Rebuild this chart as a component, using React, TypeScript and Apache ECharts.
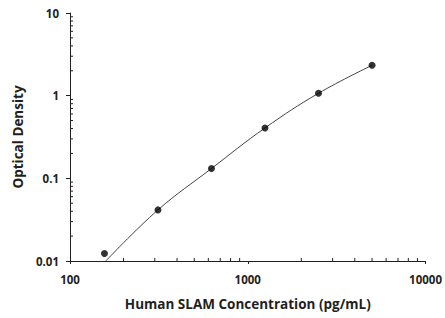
import React, { useEffect, useRef } from "react";
import * as echarts from "echarts";

const concentrations = [156.25, 312.5, 625, 1250, 2500, 5000];
const opticalDensity = [0.0123, 0.0415, 0.1315, 0.407, 1.07, 2.33];
const curveX = [159, 312.5, 625, 1250, 2500, 5000];
const curveY = [0.01, 0.0415, 0.1315, 0.407, 1.07, 2.33];
const xMinorTicks = [200, 300, 400, 500, 600, 700, 800, 900, 2000, 3000, 4000, 5000, 6000, 7000, 8000, 9000];
const yMinorTicks = [0.02, 0.03, 0.04, 0.05, 0.06, 0.07, 0.08, 0.09, 0.2, 0.3, 0.4, 0.5, 0.6, 0.7, 0.8, 0.9, 2, 3, 4, 5, 6, 7, 8, 9];
const xRange = [100, 10000];
const yRange = [0.01, 10];

const INK = "#231f20";
const FONT = "'Open Sans', sans-serif";

export default function App() {
  const ref = useRef<HTMLDivElement>(null);
  useEffect(() => {
    if (!ref.current) return;
    const chart = echarts.init(ref.current, null, { renderer: "svg" });
    const tickLabel = { color: INK, fontFamily: FONT, fontWeight: "bold" as const, fontSize: 11.5 };
    chart.setOption({
      animation: false,
      backgroundColor: "#fff",
      grid: { left: 70, right: 18, top: 13, bottom: 57 },
      xAxis: {
        type: "log",
        logBase: 10,
        min: xRange[0],
        max: xRange[1],
        name: "Human SLAM Concentration (pg/mL)",
        nameLocation: "middle",
        nameGap: 36,
        nameTextStyle: { color: INK, fontFamily: FONT, fontWeight: "bold", fontSize: 13.5 },
        axisLine: { lineStyle: { color: INK, width: 1 } },
        axisTick: { show: true, length: 3, lineStyle: { color: INK } },
        axisLabel: { ...tickLabel, margin: 12, formatter: (v: number) => String(Math.round(v)) },
        splitLine: { show: false },
      },
      yAxis: {
        type: "log",
        logBase: 10,
        min: yRange[0],
        max: yRange[1],
        name: "Optical Density",
        nameLocation: "middle",
        nameGap: 44,
        nameTextStyle: { color: INK, fontFamily: FONT, fontWeight: "bold", fontSize: 13.5 },
        axisLine: { show: true, lineStyle: { color: INK, width: 1 } },
        axisTick: { show: true, length: 4, lineStyle: { color: INK } },
        axisLabel: {
          ...tickLabel,
          margin: 11,
          formatter: (v: number) => (v >= 1 ? String(Math.round(v)) : String(Number(v.toPrecision(1)))),
        },
        splitLine: { show: false },
      },
      series: [
        {
          type: "line",
          data: curveX.map((x, i) => [x, curveY[i]]),
          smooth: 0.4,
          symbol: "none",
          lineStyle: { color: "#444", width: 1 },
          silent: true,
          z: 2,
        },
        {
          type: "scatter",
          data: concentrations.map((x, i) => [x, opticalDensity[i]]),
          symbolSize: 7,
          itemStyle: { color: "#000" },
          z: 3,
        },
        {
          type: "custom",
          silent: true,
          clip: false,
          data: xMinorTicks.map((v) => [v, yRange[0]]),
          renderItem: (params: any, api: any) => {
            const p = api.coord([api.value(0), api.value(1)]);
            return {
              type: "line",
              shape: { x1: p[0], y1: p[1], x2: p[0], y2: p[1] - 3 },
              style: { stroke: INK, lineWidth: 1 },
            };
          },
        },
        {
          type: "custom",
          silent: true,
          clip: false,
          data: yMinorTicks.map((v) => [xRange[0], v]),
          renderItem: (params: any, api: any) => {
            const p = api.coord([api.value(0), api.value(1)]);
            return {
              type: "line",
              shape: { x1: p[0], y1: p[1], x2: p[0] + 3, y2: p[1] },
              style: { stroke: INK, lineWidth: 1 },
            };
          },
        },
      ],
    });
    return () => chart.dispose();
  }, []);
  return <div ref={ref} style={{ width: 445, height: 318, position: "absolute", left: 0, top: 0 }} />;
}
